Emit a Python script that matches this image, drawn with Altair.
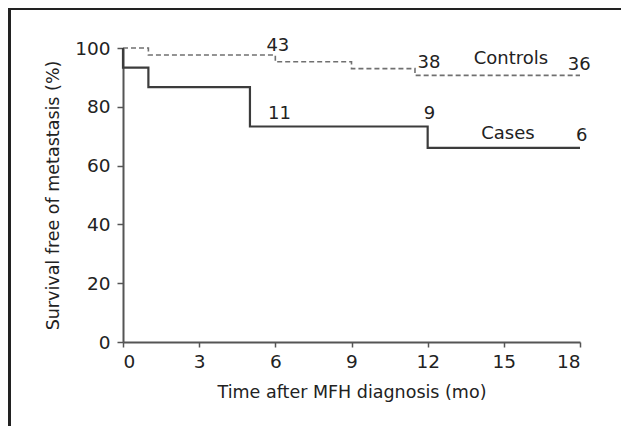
import altair as alt
import pandas as pd

# Kaplan-Meier step data
cases_time = [0, 0, 1, 5, 12, 18]
cases_surv = [100, 93.3, 86.7, 73.3, 66.0, 66.0]
controls_time = [0, 1, 6, 9, 11.5, 18]
controls_surv = [100, 97.6, 95.3, 93.0, 90.7, 90.7]

# annotations (numbers at risk and group names)
ann_text = ["43", "38", "36", "Controls", "11", "9", "Cases", "6"]
ann_time = [6.1, 12.05, 17.97, 15.28, 6.16, 12.07, 15.16, 18.07]
ann_surv = [100.7, 94.8, 94.3, 96.4, 77.7, 77.7, 70.9, 70.0]

x_ticks = [0, 3, 6, 9, 12, 15, 18]
y_ticks = [0, 20, 40, 60, 80, 100]

W, H = 457, 294
FONT = "DejaVu Sans"

cases = pd.DataFrame({"t": cases_time, "s": cases_surv, "i": range(len(cases_time))})
controls = pd.DataFrame({"t": controls_time, "s": controls_surv, "i": range(len(controls_time))})
ann = pd.DataFrame({"label": ann_text, "t": ann_time, "s": ann_surv})

xscale = alt.Scale(domain=[0, 18], nice=False, zero=False)
yscale = alt.Scale(domain=[0, 100], nice=False)

xaxis = alt.Axis(values=x_ticks, title="Time after MFH diagnosis (mo)", grid=False,
                 tickSize=5, labelPadding=5, titlePadding=13, labelFontSize=18.5,
                 titleFontSize=17.5, titleFontWeight="normal", domainColor="#555",
                 tickColor="#555", domainWidth=2, tickWidth=1.5,
                 labelColor="#222", titleColor="#222", labelFont=FONT, titleFont=FONT)
yaxis = alt.Axis(values=y_ticks, title="Survival free of metastasis (%)", grid=False,
                 tickSize=6, labelPadding=7, titlePadding=12, labelFontSize=18.5,
                 titleFontSize=17.5, titleFontWeight="normal", domainColor="#555",
                 tickColor="#555", domainWidth=2, tickWidth=1.5,
                 labelColor="#222", titleColor="#222", labelFont=FONT, titleFont=FONT)

cases_line = alt.Chart(cases).mark_line(interpolate="step-after", color="#3c3c3c",
                                        strokeWidth=2.2).encode(
    x=alt.X("t:Q", scale=xscale, axis=xaxis),
    y=alt.Y("s:Q", scale=yscale, axis=yaxis),
    order="i:Q",
)

controls_line = alt.Chart(controls).mark_line(interpolate="step-after", color="#707070",
                                              strokeWidth=1.6, strokeDash=[5, 3]).encode(
    x=alt.X("t:Q", scale=xscale),
    y=alt.Y("s:Q", scale=yscale),
    order="i:Q",
)

labels = alt.Chart(ann).mark_text(fontSize=18, font=FONT, color="#222",
                                  align="center", baseline="middle").encode(
    x=alt.X("t:Q", scale=xscale),
    y=alt.Y("s:Q", scale=yscale),
    text="label:N",
)

frame_left = alt.Chart(pd.DataFrame({"a": [0]})).mark_rule(color="#222", strokeWidth=3).encode(
    x=alt.value(-113.5), y=alt.value(-42), y2=alt.value(400))
frame_top = alt.Chart(pd.DataFrame({"a": [0]})).mark_rule(color="#222", strokeWidth=3).encode(
    x=alt.value(-115), x2=alt.value(520), y=alt.value(-39.5))

chart = alt.layer(controls_line, cases_line, labels, frame_left, frame_top).properties(
    width=W, height=H,
    autosize=alt.AutoSizeParams(type="none"),
    padding={"left": 115, "top": 40, "right": 41, "bottom": 84},
).configure_view(stroke=None)

chart.save("out.html", embed_options={"renderer": "svg", "actions": False})
